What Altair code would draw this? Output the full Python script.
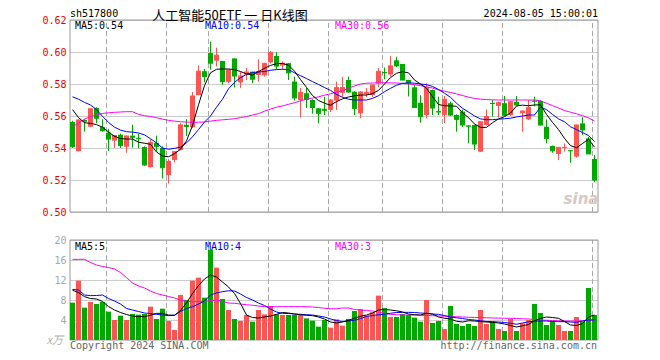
import altair as alt
import pandas as pd

# ---------------- data ----------------
date_ticks = [6, 16, 23, 33, 43, 52, 62, 72, 87]
date_labels = ["2024-04-08", "04-22", "05-06", "05-20", "06-03", "06-17", "07-01", "07-15", "08-05"]
price_ticks = [0.50, 0.52, 0.54, 0.56, 0.58, 0.60, 0.62]
vol_ticks = [4, 8, 12, 16, 20]

opens = [.5563, .5380, .5575, .5533, .5650, .5531, .5496, .5446, .5483, .5408,
         .5477, .5462, .5406, .5280, .5433, .5400, .5230, .5325, .5388, .5545,
         .5530, .5730, .5880, .5993, .5946, .5944, .5813, .5960, .5810, .5860,
         .5877, .5856, .5854, .5935, .5975, .5915, .5930, .5815, .5700, .5742,
         .5700, .5648, .5645, .5638, .5696, .5745, .5825, .5752, .5617, .5735,
         .5731, .5804, .5875, .5860, .5948, .5925, .5825, .5779, .5683, .5606,
         .5763, .5630, .5606, .5680, .5606, .5627, .5540, .5544, .5377, .5544,
         .5682, .5663, .5680, .5606, .5689, .5617, .5579, .5696, .5694, .5533,
         .5413, .5363, .5400, .5385, .5346, .5554, .5460, .5331]
highs = [.5570, .5580, .5580, .5648, .5655, .5580, .5520, .5480, .5490, .5480,
         .5546, .5490, .5410, .5454, .5477, .5410, .5330, .5378, .5555, .5580,
         .5750, .5915, .5895, .6065, .6027, .5944, .5890, .5960, .5877, .5900,
         .5877, .5955, .5932, .6006, .6000, .5942, .5930, .5846, .5775, .5775,
         .5705, .5650, .5720, .5705, .5815, .5845, .5846, .5755, .5755, .5775,
         .5795, .5900, .5903, .5975, .5970, .5926, .5826, .5795, .5730, .5805,
         .5765, .5721, .5725, .5690, .5610, .5640, .5544, .5546, .5565, .5640,
         .5700, .5689, .5725, .5695, .5725, .5635, .5700, .5721, .5700, .5579,
         .5415, .5404, .5429, .5386, .5544, .5592, .5470, .5356]
lows = [.5400, .5378, .5502, .5530, .5555, .5502, .5380, .5400, .5400, .5371,
        .5402, .5398, .5288, .5278, .5380, .5210, .5178, .5310, .5385, .5475,
        .5525, .5730, .5810, .5890, .5910, .5795, .5805, .5778, .5775, .5825,
        .5805, .5815, .5846, .5929, .5892, .5890, .5825, .5697, .5590, .5650,
        .5615, .5554, .5606, .5625, .5638, .5720, .5745, .5606, .5586, .5720,
        .5720, .5780, .5830, .5846, .5906, .5823, .5722, .5650, .5558, .5585,
        .5606, .5606, .5556, .5600, .5502, .5530, .5429, .5388, .5375, .5540,
        .5596, .5590, .5600, .5600, .5665, .5502, .5575, .5660, .5540, .5429,
        .5370, .5325, .5377, .5308, .5340, .5481, .5363, .5186]
closes = [.5408, .5575, .5568, .5645, .5586, .5508, .5456, .5478, .5415, .5475,
          .5467, .5458, .5294, .5433, .5410, .5277, .5315, .5377, .5544, .5535,
          .5725, .5880, .5846, .5930, .5980, .5815, .5888, .5850, .5850, .5875,
          .5830, .5877, .5929, .5998, .5912, .5930, .5870, .5713, .5748, .5704,
          .5653, .5617, .5636, .5700, .5777, .5778, .5750, .5648, .5750, .5748,
          .5794, .5879, .5870, .5913, .5913, .5825, .5806, .5654, .5596, .5777,
          .5650, .5625, .5704, .5606, .5579, .5544, .5536, .5425, .5564, .5596,
          .5678, .5683, .5605, .5689, .5669, .5631, .5652, .5692, .5544, .5460,
          .5383, .5404, .5404, .5383, .5544, .5513, .5363, .5200]
ma5 = [.5640, .5590, .5558, .5554, .5546, .5530, .5500, .5473, .5459, .5456,
       .5456, .5436, .5430, .5423, .5375, .5350, .5345, .5365, .5392, .5445,
       .5540, .5670, .5790, .5870, .5892, .5894, .5894, .5890, .5878, .5863,
       .5856, .5878, .5898, .5916, .5927, .5928, .5918, .5880, .5828, .5779,
       .5728, .5697, .5680, .5667, .5690, .5707, .5719, .5726, .5731, .5731,
       .5740, .5760, .5800, .5840, .5867, .5877, .5870, .5825, .5800, .5773,
       .5721, .5672, .5664, .5663, .5661, .5620, .5590, .5550, .5529, .5529,
       .5558, .5582, .5596, .5618, .5662, .5668, .5664, .5669, .5670, .5610,
       .5560, .5515, .5460, .5415, .5401, .5428, .5455, .5405]
ma10 = [.5720, .5705, .5685, .5669, .5640, .5598, .5560, .5530, .5512, .5502,
        .5499, .5494, .5482, .5458, .5432, .5400, .5392, .5398, .5405, .5432,
        .5470, .5515, .5562, .5600, .5655, .5705, .5770, .5810, .5840, .5860,
        .5872, .5875, .5878, .5886, .5890, .5892, .5890, .5870, .5852, .5834,
        .5815, .5797, .5778, .5760, .5735, .5717, .5705, .5700, .5700, .5700,
        .5710, .5727, .5752, .5773, .5792, .5804, .5807, .5805, .5800, .5796,
        .5785, .5766, .5742, .5717, .5680, .5648, .5625, .5600, .5582, .5577,
        .5577, .5580, .5583, .5586, .5594, .5600, .5606, .5606, .5656, .5640,
        .5610, .5582, .5564, .5533, .5515, .5496, .5478, .5440]
ma30 = [.5530, .5557, .5580, .5597, .5606, .5616, .5620, .5623, .5625, .5627,
        .5627, .5610, .5602, .5597, .5590, .5580, .5573, .5568, .5564, .5562,
        .5560, .5561, .5563, .5568, .5573, .5576, .5579, .5583, .5590, .5597,
        .5606, .5615, .5630, .5643, .5655, .5663, .5673, .5683, .5695, .5705,
        .5712, .5720, .5730, .5739, .5748, .5758, .5773, .5788, .5800, .5805,
        .5806, .5808, .5808, .5807, .5806, .5804, .5800, .5796, .5790, .5782,
        .5775, .5763, .5755, .5747, .5738, .5728, .5718, .5710, .5705, .5703,
        .5701, .5700, .5700, .5700, .5700, .5700, .5700, .5700, .5695, .5680,
        .5665, .5650, .5634, .5624, .5614, .5602, .5588, .5568]
volumes = [7.47, 11.87, 6.47, 7.6, 7.2, 7.6, 5.67, 4.0, 4.87, 4.0,
           5.2, 5.07, 5.2, 6.67, 4.2, 6.27, 3.8, 2.0, 9.0, 8.0,
           11.87, 12.47, 8.47, 18.0, 14.47, 8.2, 6.0, 4.2, 3.8, 5.0,
           3.67, 6.0, 5.13, 6.8, 5.13, 5.0, 5.0, 5.0, 5.0, 4.33,
           3.87, 2.67, 4.0, 2.47, 4.13, 2.87, 4.2, 5.8, 6.2, 4.87,
           5.53, 8.87, 6.4, 4.6, 4.6, 5.2, 5.0, 4.47, 3.67, 8.0,
           3.4, 3.8, 2.2, 6.8, 3.2, 2.8, 3.2, 2.8, 6.0, 3.2,
           3.67, 2.2, 1.8, 4.2, 1.8, 3.33, 4.0, 7.2, 5.4, 3.0,
           3.8, 3.0, 1.8, 1.8, 4.6, 3.67, 10.4, 5.0]
vma5 = [9.95, 9.5, 8.67, 8.3, 8.2, 7.7, 6.7, 6.0, 5.5, 5.1,
        4.8, 4.67, 4.67, 4.95, 5.33, 5.33, 5.0, 4.9, 5.9, 7.4,
        9.3, 10.9, 12.2, 13.0, 12.6, 11.6, 10.6, 9.3, 7.3, 5.0,
        4.5, 4.4, 4.6, 4.8, 5.13, 5.5, 5.4, 5.2, 5.05, 4.95,
        4.87, 4.6, 4.2, 3.6, 3.4, 3.6, 3.95, 4.35, 4.75, 5.0,
        5.4, 6.0, 6.1, 6.0, 5.85, 5.6, 5.2, 5.05, 5.0, 5.33,
        5.2, 4.6, 4.35, 4.2, 3.75, 3.6, 3.85, 3.8, 3.67, 3.6,
        3.53, 3.4, 3.2, 2.9, 2.6, 2.85, 3.1, 3.85, 4.3, 4.6,
        4.5, 4.35, 3.7, 3.0, 2.9, 3.3, 4.6, 5.0]
vma10 = [10.13, 10.0, 9.0, 8.87, 8.9, 9.0, 8.3, 7.8, 7.2, 6.3,
         6.0, 5.7, 5.4, 5.3, 5.13, 5.0, 4.87, 5.0, 5.7, 6.3,
         6.67, 7.2, 7.8, 9.0, 9.4, 9.67, 9.85, 9.8, 9.2, 8.5,
         8.0, 7.4, 6.9, 6.2, 5.6, 5.33, 5.3, 5.2, 5.13, 5.05,
         5.0, 4.8, 4.6, 4.2, 3.9, 3.7, 3.8, 3.95, 4.3, 4.7,
         4.9, 5.05, 5.15, 5.35, 5.5, 5.53, 5.53, 5.5, 5.4, 5.33,
         5.2, 5.13, 4.9, 4.6, 4.45, 4.3, 4.1, 4.0, 3.85, 3.7,
         3.67, 3.6, 3.5, 3.35, 3.15, 3.4, 3.65, 3.75, 3.8, 3.8,
         3.7, 3.67, 3.67, 3.6, 3.53, 3.8, 4.0, 4.0]
vma30 = [16.13, 16.13, 16.13, 15.5, 15.0, 14.7, 14.5, 14.2, 13.5, 12.5,
         11.4, 10.8, 10.4, 9.8, 9.3, 9.0, 8.7, 8.4, 8.0, 7.7,
         7.67, 7.67, 7.67, 7.9, 8.0, 7.7, 7.4, 7.33, 7.2, 7.05,
         6.95, 6.8, 6.67, 6.67, 6.67, 6.67, 6.67, 6.67, 6.67, 6.67,
         6.6, 6.5, 6.35, 6.25, 6.25, 6.4, 6.4, 6.1, 6.0, 5.9,
         5.8, 5.6, 5.3, 5.13, 5.05, 5.0, 5.0, 5.0, 4.95, 4.9,
         4.87, 4.8, 4.75, 4.7, 4.65, 4.6, 4.55, 4.5, 4.47, 4.45,
         4.4, 4.38, 4.35, 4.33, 4.3, 4.25, 4.2, 4.1, 4.0, 3.95,
         3.9, 3.85, 3.8, 3.8, 3.8, 3.85, 3.95, 4.0]

header_code = "sh517800"
header_title = "人工智能50ETF 一 日K线图"
header_time = "2024-08-05 15:00:01"
price_legend = ["MA5:0.54", "MA10:0.54", "MA30:0.56"]
vol_legend = ["MA5:5", "MA10:4", "MA30:3"]
vol_unit = "x万"
footer_left = "Copyright 2024 SINA.COM"
footer_right = "http://finance.sina.com.cn"
watermark = "sina"

# ---------------- tables ----------------
N = len(opens)
df = pd.DataFrame({"i": range(N), "open": opens, "high": highs, "low": lows,
                   "close": closes, "vol": volumes, "ma5": ma5, "ma10": ma10,
                   "ma30": ma30, "vma5": vma5, "vma10": vma10, "vma30": vma30})
df["xl"] = df["i"]
df["xr"] = df["i"] + 5 / 6
df["xc"] = df["i"] + 2.5 / 6
df["btop"] = df[["open", "close"]].max(axis=1)
df["bbot"] = df[["open", "close"]].min(axis=1)
df["dir"] = ["up" if c > o else "down" for o, c in zip(opens, closes)]
df["zero"] = 0.0

rules = pd.DataFrame({"d": [t + 1 / 12 for t in date_ticks], "plo": 0.50, "phi": 0.62,
                      "vlo": 0.0, "vhi": 20.0})
frame = pd.DataFrame({"x0": [0], "x1": [N], "p0": [0.50], "p1": [0.62], "v0": [0.0], "v1": [20.0]})

RED = "#ff5454"
GREEN = "#00a800"
MONO = "DejaVu Sans Mono"
CJK = "Noto Sans CJK SC"

XS = alt.Scale(domain=[0, N], nice=False, zero=False)
PS = alt.Scale(domain=[0.50, 0.62], range=[192, 0], nice=False, zero=False)
VS = alt.Scale(domain=[0, 20], range=[320, 220], nice=False, zero=False)

label_expr = "".join(f"datum.value == {t} ? '{l}' : " for t, l in zip(date_ticks, date_labels)) + "''"
x_axis = alt.Axis(orient="bottom", offset=-128, values=date_ticks, labelExpr=label_expr,
                  grid=False, ticks=False, domain=False, labelColor="#1a7ad4",
                  labelFont=MONO, labelFontSize=10, labelPadding=4,
                  labelOverlap=False, labelFlush=False, title=None)
price_axis = alt.Axis(orient="left", values=price_ticks, format=".2f", grid=True,
                      gridColor="#9a9a9a", gridDash=[1, 1], gridWidth=1, ticks=False,
                      domain=False, labelColor="#e80000", labelFont=MONO, labelFontSize=10,
                      labelPadding=4, title=None)
vol_axis = alt.Axis(orient="left", values=vol_ticks, format="d", grid=True,
                    gridColor="#9a9a9a", gridDash=[1, 1], gridWidth=1, ticks=False,
                    domain=False, labelColor="#a8a8a8", labelFont=MONO, labelFontSize=10,
                    labelPadding=4, title=None)

dir_color = alt.Color("dir:N", scale=alt.Scale(domain=["up", "down"], range=[RED, GREEN]), legend=None)


def X(f, axis=None):
    return alt.X(f, scale=XS, axis=axis)


def PY(f, axis=None):
    return alt.Y(f, scale=PS, axis=axis)


def VY(f, axis=None):
    return alt.Y(f, scale=VS, axis=axis)


layers = []
# frames (carry the axes)
layers.append(alt.Chart(frame).mark_rect(fillOpacity=0, stroke="#9a9a9a", strokeWidth=1).encode(
    x=X("x0:Q", x_axis), x2="x1:Q", y=PY("p0:Q", price_axis), y2="p1:Q"))
layers.append(alt.Chart(frame).mark_rect(fillOpacity=0, stroke="#9a9a9a", strokeWidth=1).encode(
    x=X("x0:Q"), x2="x1:Q", y=VY("v0:Q", vol_axis), y2="v1:Q"))
# dashed date lines
layers.append(alt.Chart(rules).mark_rule(color="#a8a8a8", strokeDash=[5, 3], strokeWidth=1).encode(
    x=X("d:Q"), y=PY("plo:Q"), y2="phi:Q"))
layers.append(alt.Chart(rules).mark_rule(color="#a8a8a8", strokeDash=[5, 3], strokeWidth=1).encode(
    x=X("d:Q"), y=VY("vlo:Q"), y2="vhi:Q"))
# volume bars
layers.append(alt.Chart(df).mark_rect().encode(
    x=X("xl:Q"), x2="xr:Q", y=VY("vol:Q"), y2="zero:Q", color=dir_color))
for f, c in [("vma30", "#ff00ff"), ("vma10", "#0000ff"), ("vma5", "#000000")]:
    layers.append(alt.Chart(df).mark_line(color=c, strokeWidth=1).encode(x=X("xc:Q"), y=VY(f"{f}:Q")))
# candles
layers.append(alt.Chart(df).mark_rule(strokeWidth=1).encode(
    x=X("xc:Q"), y=PY("low:Q"), y2="high:Q", color=dir_color))
layers.append(alt.Chart(df).mark_rect().encode(
    x=X("xl:Q"), x2="xr:Q", y=PY("btop:Q"), y2="bbot:Q", color=dir_color))
layers.append(alt.Chart(df).mark_rule(strokeWidth=1).encode(
    x=X("xl:Q"), x2="xr:Q", y=PY("close:Q"), color=dir_color))
for f, c in [("ma30", "#ff00ff"), ("ma10", "#0000ff"), ("ma5", "#000000")]:
    layers.append(alt.Chart(df).mark_line(color=c, strokeWidth=1).encode(x=X("xc:Q"), y=PY(f"{f}:Q")))


def txt(text, px, py, color, font=MONO, size=10, align="left", **kw):
    return alt.Chart(pd.DataFrame({"t": [text]})).mark_text(
        align=align, baseline="middle", font=font, fontSize=size, color=color, **kw).encode(
        x=alt.value(px), y=alt.value(py), text="t:N")


layers.append(txt(header_code, 0, -6, "#000000"))
layers.append(txt(header_title, 160, -4.5, "#000000", font=CJK, size=13, align="center"))
layers.append(txt(header_time, 528, -6, "#000000", align="right"))
for t, px, c in zip(price_legend, [5, 135, 265], ["#000000", "#0000ff", "#ff00ff"]):
    layers.append(txt(t, px, 5.5, c))
for t, px, c in zip(vol_legend, [5, 135, 265], ["#000000", "#0000ff", "#ff00ff"]):
    layers.append(txt(t, px, 226.5, c))
layers.append(txt(vol_unit, -7, 321, "#b0b0b0", font=CJK, size=11, align="right", fontStyle="italic"))
layers.append(txt(footer_left, 0, 325.5, "#666666"))
layers.append(txt(footer_right, 527, 325.5, "#666666", align="right"))
layers.append(txt(watermark, 511, 179, "#d8c8c8", font="DejaVu Sans", size=15, align="center",
                  fontStyle="italic", fontWeight="bold"))

chart = alt.layer(*layers).resolve_scale(y="independent").properties(
    width=528, height=320,
    autosize=alt.AutoSizeParams(type="none"),
    padding={"left": 62, "top": 12, "right": 54, "bottom": 12},
).configure_view(strokeWidth=0)

chart.save("out.html", embed_options={"renderer": "svg", "actions": False})
